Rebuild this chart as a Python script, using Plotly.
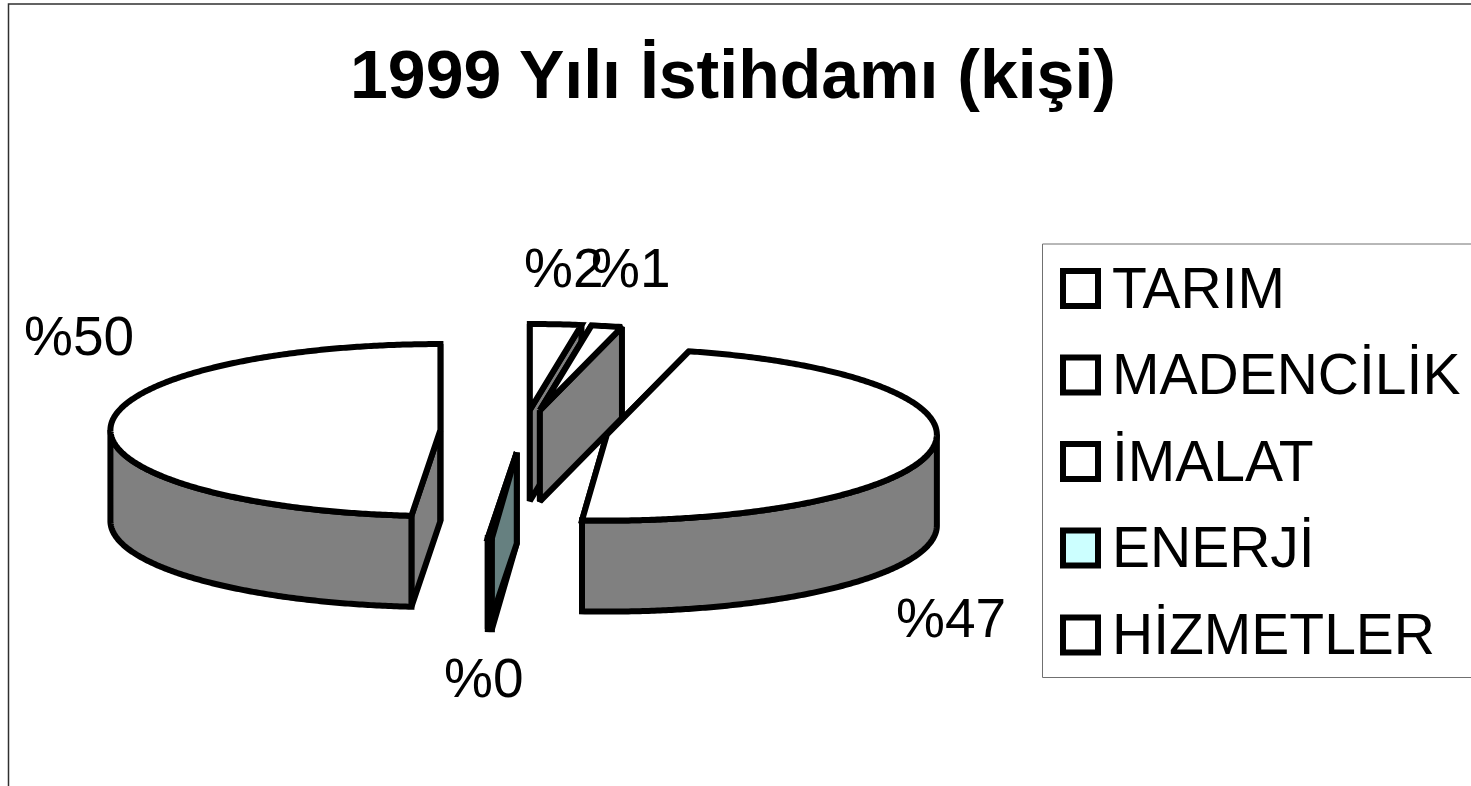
import numpy as np
import plotly.graph_objects as go

# ---- data ----
categories = ["TARIM", "MADENCİLİK", "İMALAT", "ENERJİ", "HİZMETLER"]
shares = [2.5, 1.5, 47.2, 0.2, 48.6]          # sweep of each slice
share_labels = ["%2", "%1", "%47", "%0", "%50"]
explode = [0.245, 0.245, 0.256, 0.25, 0.252]
top_colors = ["#FFFFFF", "#FFFFFF", "#FFFFFF", "#CCFFFF", "#FFFFFF"]
side_colors = ["#808080", "#808080", "#808080", "#668080", "#808080"]
draw_order = [0, 1, 2, 4, 3]
title_text = "1999 Yılı İstihdamı (kişi)"

# ---- pie projection ----
W, H = 1471, 786
cx, cy = 523.5, 431
a, b, depth = 330, 86, 91
LW = 6
ink = "#000000"


def pt(theta_deg, ox, oy, r=1.0):
    t = np.radians(theta_deg)
    return ox + a * r * np.sin(t), oy - b * r * np.cos(t)


def face(xs, ys, color):
    return go.Scatter(x=xs, y=ys, mode="lines", fill="toself", fillcolor=color,
                      line=dict(color=ink, width=LW, simplify=False), hoverinfo="skip", showlegend=False)


fig = go.Figure()
edges = np.cumsum([0] + shares) * 3.6
label_pos = [(564, 268), (631, 268), (951, 618), (484, 678), (79, 336)]

for i in draw_order:
    start, end = edges[i], edges[i + 1]
    mid = (start + end) / 2
    ox, oy = pt(mid, cx, cy, explode[i])
    arc = np.linspace(start, end, max(3, int(end - start) * 2))
    ax, ay = pt(arc, ox, oy)
    # cut faces
    for th in (start, end):
        ex, ey = pt(th, ox, oy)
        fig.add_trace(face([ox, ex, ex, ox, ox], [oy, ey, ey + depth, oy + depth, oy], side_colors[i]))
    # outer wall, only the part of the rim that faces the viewer
    lo, hi = max(start, 90), min(end, 270)
    if hi > lo:
        rim = np.linspace(lo, hi, max(3, int(hi - lo) * 2))
        rx, ry = pt(rim, ox, oy)
        fig.add_trace(face(np.r_[rx, rx[::-1], rx[0]], np.r_[ry, ry[::-1] + depth, ry[0]], side_colors[i]))
    # top
    fig.add_trace(face(np.r_[ox, ax, ox], np.r_[oy, ay, oy], top_colors[i]))

# value labels
annotations = []
for txt, (lx, ly) in zip(share_labels, label_pos):
    annotations.append(dict(x=lx, y=ly, xref="x", yref="y", text=txt, showarrow=False,
                            xanchor="center", yanchor="middle",
                            font=dict(family="Liberation Sans", size=55, color="#000000")))

# legend
legend_y = [288.5, 375, 461.5, 548, 635]
fig.add_trace(go.Scatter(x=[1080.5] * 5, y=legend_y, mode="markers", hoverinfo="skip", showlegend=False,
                         marker=dict(symbol="square", size=35, color=top_colors,
                                     line=dict(color=ink, width=6))))
for name, ly in zip(categories, legend_y):
    annotations.append(dict(x=1110, y=ly - 1, xref="x", yref="y", text=name, showarrow=False,
                            xanchor="left", yanchor="middle",
                            font=dict(family="Liberation Sans", size=57, color="#000000")))

shapes = [
    dict(type="rect", xref="x", yref="y", x0=8.5, x1=1500, y0=4, y1=820, layer="below",
         line=dict(color="#303030", width=1.5)),
    dict(type="rect", xref="x", yref="y", x0=1042.5, x1=1500, y0=244, y1=677.5, layer="below",
         line=dict(color="#707070", width=1)),
]

fig.update_layout(
    width=W, height=H, margin=dict(l=0, r=0, t=0, b=0), showlegend=False,
    paper_bgcolor="#FFFFFF", plot_bgcolor="#FFFFFF", hovermode=False,
    title=dict(text=title_text, x=733 / W, xanchor="center", y=1 - 74 / H, yanchor="middle",
               font=dict(family="Liberation Sans", size=68, color="#000000", weight="bold")),
    xaxis=dict(visible=False, range=[0, W], fixedrange=True),
    yaxis=dict(visible=False, range=[H, 0], fixedrange=True),
    annotations=annotations, shapes=shapes,
)

fig.write_html("out.html", config=dict(displayModeBar=False),
               post_script="document.body.style.margin='0';document.body.style.overflow='hidden';")
